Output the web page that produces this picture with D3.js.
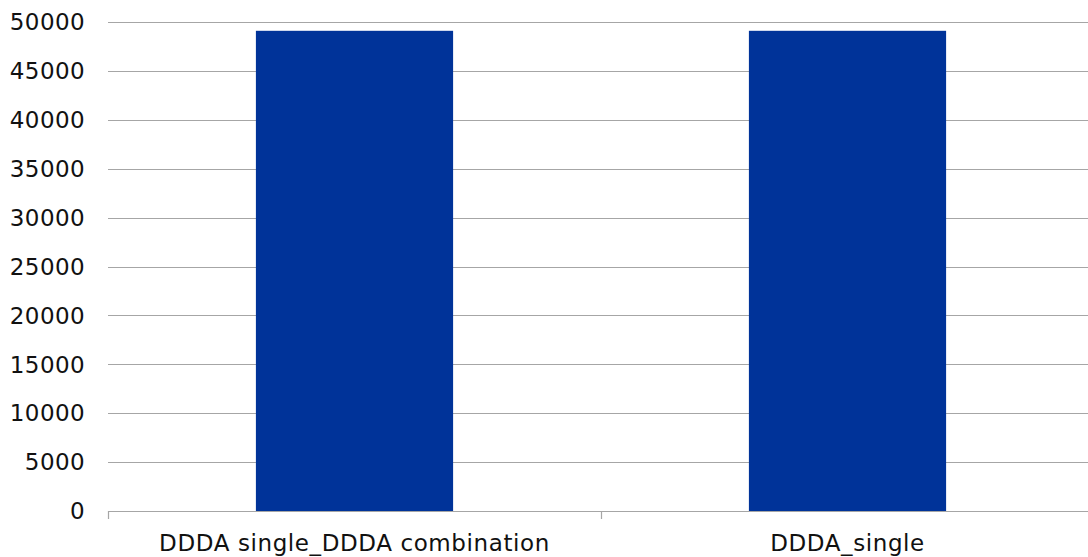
<!DOCTYPE html>
<html>
<head>
<meta charset="utf-8">
<script src="https://cdn.jsdelivr.net/npm/d3@7"></script>
<style>
  html, body { margin: 0; padding: 0; background: #fff; }
  svg { display: block; }
  text { font-family: "DejaVu Sans", Verdana, sans-serif; fill: #111; }
</style>
</head>
<body>
<svg id="chart" width="1088" height="557"></svg>
<script>
// Categories and their values
const categories = ["DDDA single_DDDA combination", "DDDA_single"];
const values = [49100, 49100];
const yTicks = [0, 5000, 10000, 15000, 20000, 25000, 30000, 35000, 40000, 45000, 50000];

const svg = d3.select("#chart");
const margin = { left: 108, right: -6, top: 22, bottom: 46 };
const width = 1088, height = 557;

const x = d3.scaleBand()
  .domain(categories)
  .range([margin.left, width - margin.right])
  .paddingInner(0)
  .paddingOuter(0);

const y = d3.scaleLinear()
  .domain([0, 50000])
  .range([height - margin.bottom, margin.top]);

// Horizontal gridlines
svg.append("g")
  .selectAll("line")
  .data(yTicks)
  .join("line")
  .attr("x1", margin.left)
  .attr("x2", width)
  .attr("y1", d => Math.round(y(d)) + 0.5)
  .attr("y2", d => Math.round(y(d)) + 0.5)
  .attr("stroke", "#a6a6a6")
  .attr("stroke-width", 1.2);

// Y tick labels
svg.append("g")
  .selectAll("text")
  .data(yTicks)
  .join("text")
  .attr("x", margin.left - 23)
  .attr("y", d => y(d))
  .attr("dy", "0.36em")
  .attr("text-anchor", "end")
  .style("font-size", "23px")
  .style("letter-spacing", "0.4px")
  .text(d => d);

// Bars: 40% of each band, centred
const barW = x.bandwidth() * 0.4;
svg.append("g")
  .selectAll("rect")
  .data(categories.map((c, i) => ({ c, v: values[i] })))
  .join("rect")
  .attr("x", d => x(d.c) + (x.bandwidth() - barW) / 2)
  .attr("y", d => y(d.v))
  .attr("width", barW)
  .attr("height", d => y(0) - y(d.v))
  .attr("fill", "#003399");

// Category boundary ticks below the baseline
const tickXs = categories.map(c => x(c)).concat([x(categories[1]) + x.bandwidth()]);
svg.append("g")
  .selectAll("line")
  .data(tickXs)
  .join("line")
  .attr("x1", d => Math.round(d) + 0.5)
  .attr("x2", d => Math.round(d) + 0.5)
  .attr("y1", Math.round(y(0)))
  .attr("y2", Math.round(y(0)) + 8)
  .attr("stroke", "#a6a6a6")
  .attr("stroke-width", 1.2);

// Category labels
svg.append("g")
  .selectAll("text")
  .data(categories)
  .join("text")
  .attr("x", d => x(d) + x.bandwidth() / 2)
  .attr("y", 551)
  .attr("text-anchor", "middle")
  .style("font-size", "23px")
  .style("letter-spacing", "0.6px")
  .text(d => d);
</script>
</body>
</html>
